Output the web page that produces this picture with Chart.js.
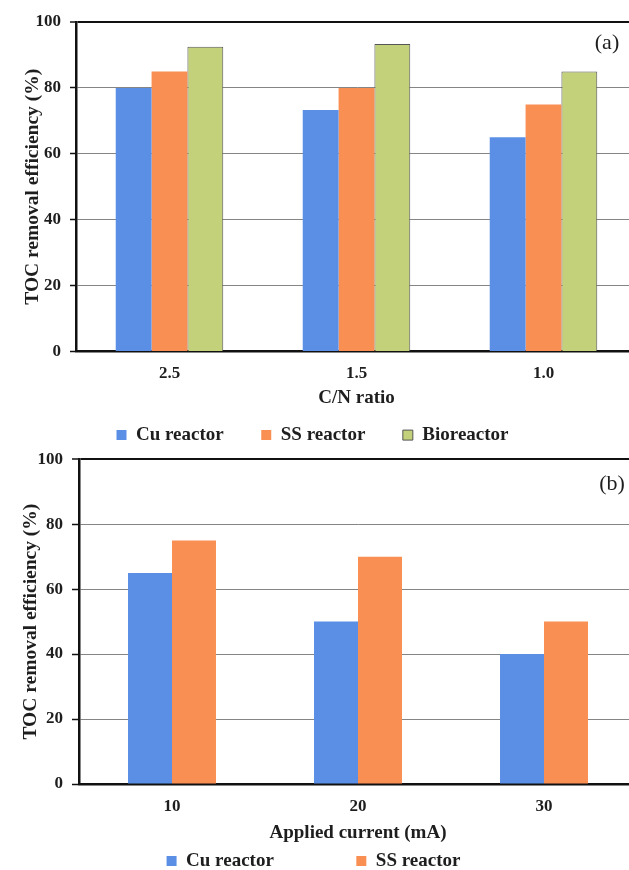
<!DOCTYPE html>
<html>
<head>
<meta charset="utf-8">
<script src="https://cdn.jsdelivr.net/npm/chart.js@4.4.1/dist/chart.umd.min.js"></script>
<style>
  html, body { margin: 0; padding: 0; background: #fff; overflow: hidden; width: 629px; height: 870px; }
  canvas { position: absolute; left: 0; }
  #ca { top: 0; }
  #cb { top: 440px; }
</style>
</head>
<body>
<canvas id="ca" width="640" height="476"></canvas>
<canvas id="cb" width="640" height="516"></canvas>
<script>
// ---- data ----
const categoriesA = ['2.5', '1.5', '1.0'];
const cuA = [80, 73.3, 65];
const ssA = [85, 80, 75];
const bioA = [92.5, 93.3, 85];

const categoriesB = ['10', '20', '30'];
const cuB = [65, 50, 40];
const ssB = [75, 70, 50];

const yTickValues = [0, 20, 40, 60, 80, 100];
const yTitle = 'TOC removal efficiency (%)';
const xTitleA = 'C/N ratio';
const xTitleB = 'Applied current (mA)';
const seriesNames = ['Cu reactor', 'SS reactor', 'Bioreactor'];

// ---- styles ----
const SERIF = '"Liberation Serif", "Times New Roman", serif';
const BLUE = '#5b8fe6';
const ORANGE = '#f98f52';
const GREEN = '#c3d27a';
const TXT = '#1e1e1e';

function panelLabel(text, dxFromRight, dyFromTop) {
  return {
    id: 'panelLabel',
    afterDraw(chart) {
      const ctx = chart.ctx, a = chart.chartArea;
      ctx.save();
      ctx.font = '22px ' + SERIF;
      ctx.fillStyle = TXT;
      ctx.textAlign = 'center';
      ctx.textBaseline = 'middle';
      ctx.fillText(text, a.right - dxFromRight, a.top + dyFromTop);
      ctx.restore();
    }
  };
}
function legendShift(dx, dy) {
  return {
    id: 'legendShift',
    afterLayout(chart) {
      const L = chart.legend;
      L.left += dx; L.right += dx;
      L.top += dy; L.bottom += dy;
    }
  };
}

function makeOptions(cfg) {
  return {
    responsive: false,
    animation: false,
    layout: { padding: { top: cfg.top, right: 3, left: 0, bottom: 0 } },
    plugins: {
      tooltip: { enabled: false },
      legend: {
        position: 'bottom',
        labels: {
          boxWidth: 10, boxHeight: 10,
          padding: cfg.legendPad,
          color: TXT,
          font: { family: SERIF, size: 19, weight: 'bold' }
        }
      }
    },
    scales: {
      x: {
        grid: { drawOnChartArea: false, drawTicks: false },
        border: { color: '#111', width: 2.5 },
        ticks: { padding: cfg.xTickPad, color: TXT, font: { family: SERIF, size: 17, weight: 'bold' } },
        title: { display: true, text: cfg.xTitle, color: TXT, padding: { top: 4, bottom: 0 },
                 font: { family: SERIF, size: 19, weight: 'bold' } },
        afterFit(s) { s.height = cfg.xHeight; }
      },
      y: {
        min: 0, max: 100,
        afterBuildTicks(s) { s.ticks = yTickValues.map(v => ({ value: v })); },
        grid: {
          color: c => (c.tick && c.tick.value === 100) ? '#111' : '#858585',
          lineWidth: c => (c.tick && c.tick.value === 100) ? 2 : 1,
          tickColor: '#111', tickLength: cfg.tickLen, tickWidth: 1.5
        },
        border: { color: '#111', width: 2.5 },
        ticks: { padding: 9, color: TXT, font: { family: SERIF, size: 17, weight: 'bold' } },
        title: { display: true, text: yTitle, color: TXT, padding: { top: cfg.yTitlePad, bottom: 0 },
                 font: { family: SERIF, size: 19.5, weight: 'bold' } },
        afterFit(s) { s.width = cfg.yWidth; }
      }
    }
  };
}

new Chart(document.getElementById('ca'), {
  type: 'bar',
  data: {
    labels: categoriesA,
    datasets: [
      { label: seriesNames[0], data: cuA, backgroundColor: BLUE, borderWidth: 0, categoryPercentage: 0.575, barPercentage: 1 },
      { label: seriesNames[1], data: ssA, backgroundColor: ORANGE, borderWidth: 0, categoryPercentage: 0.575, barPercentage: 1 },
      { label: seriesNames[2], data: bioA, backgroundColor: GREEN, borderColor: '#555', borderWidth: 1, categoryPercentage: 0.575, barPercentage: 1 }
    ]
  },
  options: makeOptions({ top: 22, legendPad: 37.5, xTickPad: 11.5, xTitle: xTitleA, xHeight: 57.9, tickLen: 6, yTitlePad: 21, yWidth: 76 }),
  plugins: [panelLabel('(a)', 30, 21), legendShift(-6, -21.4)]
});

new Chart(document.getElementById('cb'), {
  type: 'bar',
  data: {
    labels: categoriesB,
    datasets: [
      { label: seriesNames[0], data: cuB, backgroundColor: BLUE, borderWidth: 0, categoryPercentage: 0.473, barPercentage: 1 },
      { label: seriesNames[1], data: ssB, backgroundColor: ORANGE, borderWidth: 0, categoryPercentage: 0.473, barPercentage: 1 }
    ]
  },
  options: makeOptions({ top: 15, legendPad: 82.5, xTickPad: 12, xTitle: xTitleB, xHeight: 60.5, tickLen: 7, yTitlePad: 19, yWidth: 79 }),
  plugins: [panelLabel('(b)', 25, 25), legendShift(-5, -75.5)]
});
</script>
</body>
</html>
